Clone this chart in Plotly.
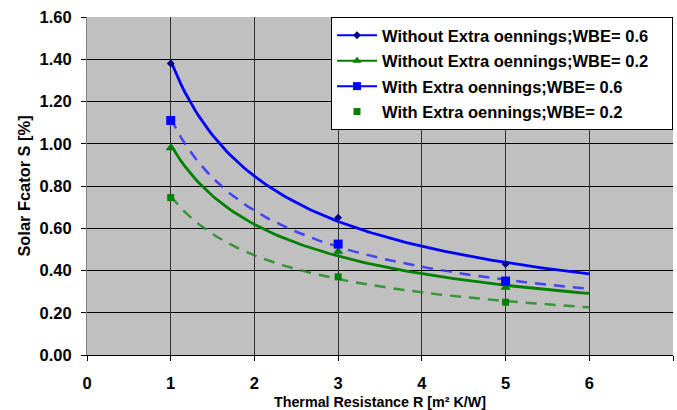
import numpy as np
import plotly.graph_objects as go

# ---- data ----
r_values = [1, 3, 5]
without_06 = [1.38, 0.65, 0.43]
without_02 = [0.98, 0.49, 0.32]
with_06 = [1.11, 0.525, 0.35]
with_02 = [0.745, 0.37, 0.25]
names = [
    "Without Extra oennings;WBE= 0.6",
    "Without Extra oennings;WBE= 0.2",
    "With Extra oennings;WBE= 0.6",
    "With Extra oennings;WBE= 0.2",
]
trend_range = [1, 6]
x_ticks = [0, 1, 2, 3, 4, 5, 6, 7]

FONT = "Liberation Sans, Arial, sans-serif"

series = [
    dict(y=without_06, name=names[0], mcolor="#000080", symbol="diamond", msize=6,
         lcolor="#0000FF", dash="solid", lw=2.8, legline=True),
    dict(y=without_02, name=names[1], mcolor="#008000", symbol="triangle-up", msize=9,
         lcolor="#008000", dash="solid", lw=2.8, legline=True),
    dict(y=with_06, name=names[2], mcolor="#0000FF", symbol="square", msize=9,
         lcolor="rgba(45,45,255,0.85)", dash="11px,8px", lw=2.5, legline=True),
    dict(y=with_02, name=names[3], mcolor="#008000", symbol="square", msize=7,
         lcolor="rgba(30,140,30,0.85)", dash="11px,8px", lw=2.5, legline=False),
]

fig = go.Figure()

x_arr = np.array(r_values, dtype=float)
xs = np.linspace(trend_range[0], trend_range[1], 120)

# power trendlines fitted to the data (like Excel's power trendline)
for s in series:
    b, ln_a = np.polyfit(np.log(x_arr), np.log(np.array(s["y"])), 1)
    ys = np.exp(ln_a) * xs ** b
    fig.add_trace(go.Scatter(x=xs, y=ys, mode="lines", showlegend=False,
                             hoverinfo="skip",
                             line=dict(color=s["lcolor"], width=s["lw"], dash=s["dash"])))

# data markers
for s in series:
    fig.add_trace(go.Scatter(x=r_values, y=s["y"], mode="markers", showlegend=False,
                             marker=dict(symbol=s["symbol"], size=s["msize"], color=s["mcolor"],
                                         line=dict(width=0))))

# legend entries
PAD = "&nbsp;" * 4
for i, s in enumerate(series):
    fig.add_trace(go.Scatter(x=[None], y=[None],
                             mode="lines+markers" if s["legline"] else "markers",
                             name="<b>" + s["name"] + PAD + "</b>",
                             legendgroup="g%d" % i,
                             line=dict(color=s["lcolor"] if s["dash"] == "solid" else s["mcolor"], width=2),
                             marker=dict(symbol=s["symbol"], size=min(s["msize"], 8), color=s["mcolor"])))

fig.update_layout(
    width=677, height=410,
    margin=dict(l=87, r=4, t=17, b=55),
    paper_bgcolor="white",
    plot_bgcolor="#C0C0C0",
    font=dict(family=FONT, size=16, color="black"),
    legend=dict(x=1, y=1, xanchor="right", yanchor="top",
                bgcolor="white", bordercolor="black", borderwidth=1,
                font=dict(family=FONT, size=16.5, color="black"),
                tracegroupgap=1, itemwidth=40),
    xaxis=dict(
        range=[0, 7], tickvals=x_ticks, showgrid=True, gridcolor="#303030", gridwidth=1,
        zeroline=False, showline=True, linecolor="black", linewidth=1,
        ticks="outside", ticklen=5, tickcolor="black", automargin=False,
        ticklabelstandoff=8,
        tickfont=dict(family=FONT, size=16.5, weight="bold"),
        title=dict(text="<b>Thermal Resistance R [m² K/W]</b>",
                   font=dict(family=FONT, size=14.3)),
    ),
    yaxis=dict(
        range=[0, 1.6], dtick=0.2, tickformat=".2f", showgrid=True, gridcolor="black",
        gridwidth=1, zeroline=False, showline=True, linecolor="#808080", linewidth=1,
        ticks="outside", ticklen=5, tickcolor="black", automargin=False,
        ticklabelstandoff=6,
        tickfont=dict(family=FONT, size=16.5, weight="bold"),
        title=dict(text="<b>Solar Fcator S [%]</b>", standoff=4,
                   font=dict(family=FONT, size=16.4)),
    ),
)

fig.write_html("out.html", config={"displayModeBar": False},
               post_script="document.body.style.margin='0';document.body.style.overflow='hidden';")
